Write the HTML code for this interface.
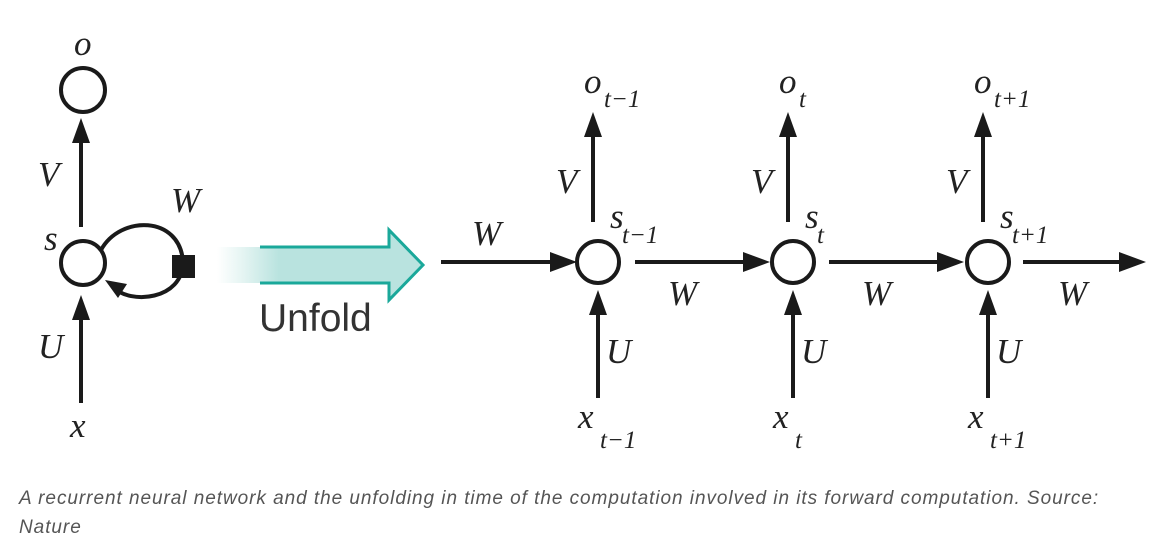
<!DOCTYPE html>
<html><head><meta charset="utf-8"><style>
body{margin:0;background:#fff;width:1161px;height:555px;overflow:hidden}
svg{position:absolute;left:0;top:0}
.l{font-family:"Liberation Serif",serif;font-style:italic;font-size:35px;fill:#222}
.sub{font-family:"Liberation Serif",serif;font-style:italic;font-size:25px;fill:#222}
.cap{position:absolute;left:19px;top:484px;width:1100px;font-family:"Liberation Sans",sans-serif;font-style:italic;font-size:19px;letter-spacing:0.95px;line-height:29px;color:#555}
</style></head><body>
<svg width="1161" height="555">
<defs>
<linearGradient id="tg" x1="0" x2="1" y1="0" y2="0">
<stop offset="0" stop-color="#fff"/><stop offset="0.12" stop-color="#e6f5f3"/><stop offset="0.3" stop-color="#b9e3df"/><stop offset="1" stop-color="#b9e3df"/>
</linearGradient>
</defs>
<g stroke="#1a1a1a" stroke-width="4" fill="none">
<circle cx="83" cy="90" r="22"/>
<circle cx="83" cy="263" r="22"/>
<line x1="81" y1="227" x2="81" y2="135"/>
<line x1="81" y1="403" x2="81" y2="312"/>
<path d="M101 250 C120 215 180 215 183 262 C183 300 130 305 113 287"/>
</g>
<g fill="#1a1a1a">
<polygon points="81,118 72,143 90,143"/>
<polygon points="81,295 72,320 90,320"/>
<polygon points="105,280 127,284 118,298"/>
<rect x="172" y="255" width="23" height="23"/>
</g>
<text class="l" x="74" y="55">o</text>
<text class="l" x="38" y="186">V</text>
<text class="l" x="171" y="212">W</text>
<text class="l" x="44" y="250">s</text>
<text class="l" x="38" y="358">U</text>
<text class="l" x="70" y="437">x</text>
<path d="M217 247 L389 247 L389 230 L423 265 L389 300 L389 283 L217 283 Z" fill="url(#tg)" stroke="none"/>
<path d="M260 247 L389 247 L389 230 L423 265 L389 300 L389 283 L260 283" fill="none" stroke="#1aa89a" stroke-width="3"/>
<text x="259" y="331" font-family="Liberation Sans,sans-serif" font-size="39" fill="#333">Unfold</text>
<g stroke="#1a1a1a" stroke-width="4" fill="none">
<line x1="441" y1="262" x2="560" y2="262"/>
<line x1="635" y1="262" x2="752" y2="262"/>
<line x1="829" y1="262" x2="946" y2="262"/>
<line x1="1023" y1="262" x2="1128" y2="262"/>
</g>
<g fill="#1a1a1a">
<polygon points="577,262 550,252 550,272"/>
<polygon points="770,262 743,252 743,272"/>
<polygon points="964,262 937,252 937,272"/>
<polygon points="1146,262 1119,252 1119,272"/>
</g>
<g id="steps"></g>
<text class="l" x="472" y="245">W</text>
<text class="l" x="668" y="305">W</text>
<text class="l" x="862" y="305">W</text>
<text class="l" x="1058" y="305">W</text>
</svg>
<div class="cap">A recurrent neural network and the unfolding in time of the computation involved in its forward computation. Source: Nature</div>
<script>
const subs=["t\u22121","t","t+1"];
const xs=[598,793,988];
const g=document.getElementById('steps');
const NS="http://www.w3.org/2000/svg";
function mk(tag,attrs,txt){const e=document.createElementNS(NS,tag);for(const k in attrs)e.setAttribute(k,attrs[k]);if(txt!==undefined)e.textContent=txt;g.appendChild(e);return e;}
subs.forEach((s,i)=>{
const cx=xs[i];
let c=mk('circle',{cx:cx,cy:262,r:21,fill:'none',stroke:'#1a1a1a','stroke-width':4});


mk('line',{x1:cx-5,y1:222,x2:cx-5,y2:128,stroke:'#1a1a1a','stroke-width':4});
mk('polygon',{points:`${cx-5},112 ${cx-14},137 ${cx+4},137`,fill:'#1a1a1a'});
mk('line',{x1:cx,y1:398,x2:cx,y2:305,stroke:'#1a1a1a','stroke-width':4});
mk('polygon',{points:`${cx},290 ${cx-9},315 ${cx+9},315`,fill:'#1a1a1a'});
let t;
t=mk('text',{class:'l',x:cx-14,y:93},'o');
t=mk('text',{class:'sub',x:cx+6,y:107},s);
t=mk('text',{class:'l',x:cx-42,y:193},'V');
t=mk('text',{class:'l',x:cx+12,y:228},'s');
t=mk('text',{class:'sub',x:cx+24,y:243},s);
t=mk('text',{class:'l',x:cx+8,y:363},'U');
t=mk('text',{class:'l',x:cx-20,y:428},'x');
t=mk('text',{class:'sub',x:cx+2,y:448},s);
});
</script>
</body></html>
